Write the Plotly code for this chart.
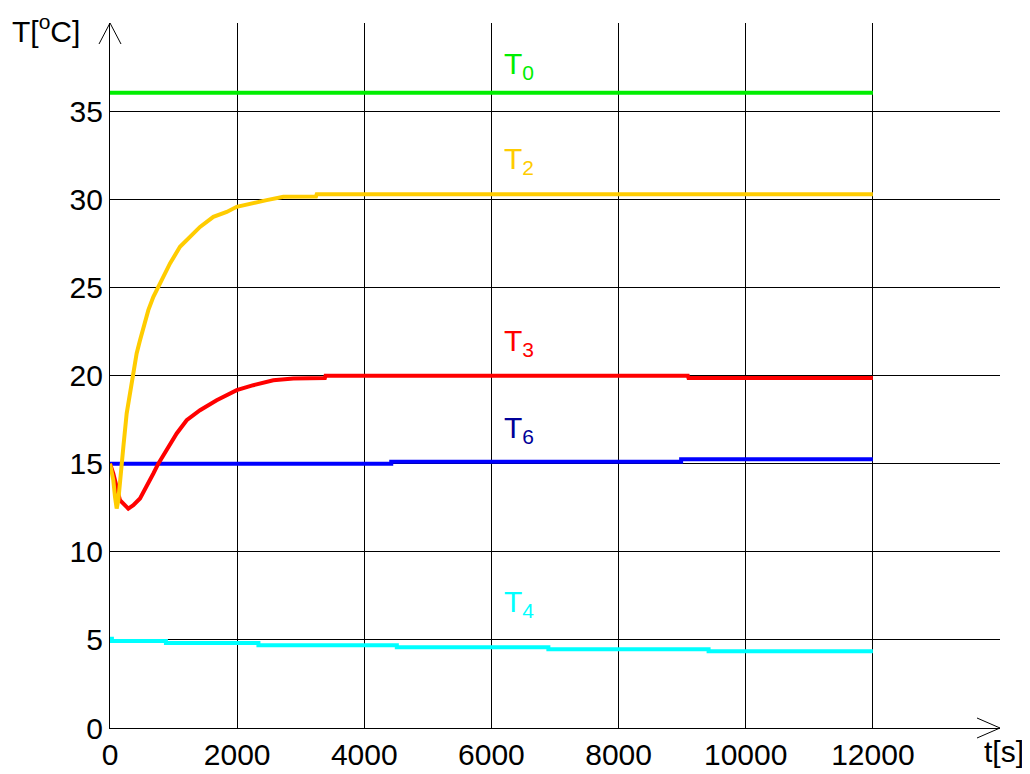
import plotly.graph_objects as go

# ---- data ----
t0_t = [0, 12000]
t0_v = [36.04, 36.04]

t2_t = [0, 52, 79, 105, 131, 157, 210, 262, 315, 367, 419, 472, 524, 603, 682, 760, 839, 944,
        1101, 1259, 1416, 1626, 1836, 1993, 2203, 2465, 2727, 3240, 3252, 12000]
t2_v = [15.0, 14.06, 13.11, 12.45, 12.92, 14.06, 15.95, 17.84, 18.98, 20.11, 21.25, 22.0, 22.76,
        23.71, 24.46, 25.03, 25.69, 26.36, 27.3, 27.87, 28.43, 29.0, 29.28, 29.57, 29.76, 29.95,
        30.14, 30.16, 30.29, 30.29]

t3_t = [0, 52, 105, 157, 288, 367, 472, 577, 682, 760, 892, 1049, 1206, 1416, 1678, 1993, 2255,
        2569, 2884, 3380, 3390, 9090, 9100, 12000]
t3_v = [15.0, 14.44, 13.68, 12.92, 12.45, 12.64, 13.02, 13.68, 14.44, 15.0, 15.76, 16.71, 17.46,
        18.03, 18.6, 19.17, 19.45, 19.73, 19.83, 19.86, 19.98, 19.98, 19.86, 19.86]

t6_t = [0, 4424, 8984, 12000]
t6_v = [15.0, 15.1, 15.25, 15.25]

t4_t = [0, 30, 880, 2335, 4512, 6896, 9416, 12000]
t4_v = [5.07, 4.94, 4.82, 4.69, 4.58, 4.47, 4.35, 4.35]

x_ticks = [0, 2000, 4000, 6000, 8000, 10000, 12000]
y_ticks = [0, 5, 10, 15, 20, 25, 30, 35]

labels = ["T<sub>0</sub>", "T<sub>2</sub>", "T<sub>3</sub>", "T<sub>6</sub>", "T<sub>4</sub>"]
label_y = [37.6, 32.2, 21.9, 16.95, 7.08]
label_colors = ["#00ee00", "#ffcc00", "#ff0000", "#000099", "#00ffff"]
label_x = 6170

FONT = "Liberation Sans, Arial, sans-serif"

fig = go.Figure()
LW = 4
fig.add_trace(go.Scatter(x=t4_t, y=t4_v, mode="lines", line=dict(color="#00ffff", width=LW, shape="hv")))
fig.add_trace(go.Scatter(x=t6_t, y=t6_v, mode="lines", line=dict(color="#0000ff", width=LW, shape="hv")))
fig.add_trace(go.Scatter(x=t3_t, y=t3_v, mode="lines", line=dict(color="#ff0000", width=LW)))
fig.add_trace(go.Scatter(x=t2_t, y=t2_v, mode="lines", line=dict(color="#ffcc00", width=LW)))
fig.add_trace(go.Scatter(x=t0_t, y=t0_v, mode="lines", line=dict(color="#00ee00", width=LW)))

for txt, yy, cc in zip(labels, label_y, label_colors):
    fig.add_annotation(x=label_x, y=yy, text=txt, showarrow=False, xanchor="left", yanchor="middle",
                       font=dict(size=30, color=cc, family=FONT))

# axis titles
fig.add_annotation(xref="paper", yref="paper", x=-0.1124, y=1.0213, text="T[<sup>o</sup>C]", showarrow=False,
                   xanchor="left", yanchor="top", font=dict(size=30, color="black", family=FONT))
fig.add_annotation(xref="paper", yref="paper", x=1.029, y=-0.034, text="t[s]", showarrow=False,
                   xanchor="right", yanchor="middle", font=dict(size=30, color="black", family=FONT))

# arrowheads on the axes
fig.add_shape(type="path", xref="paper", yref="paper", xsizemode="pixel", ysizemode="pixel",
              xanchor=0, yanchor=1, path="M -11,-21 L 0,0 L 11,-21",
              line=dict(color="black", width=1))
fig.add_shape(type="path", xref="paper", yref="paper", xsizemode="pixel", ysizemode="pixel",
              xanchor=1, yanchor=0, path="M -23,10 L 0,0 L -23,-10",
              line=dict(color="black", width=1))

fig.update_xaxes(range=[0, 14000], tickvals=x_ticks, ticktext=[str(v) for v in x_ticks],
                 showgrid=True, gridcolor="black", gridwidth=1, zeroline=False, automargin=False,
                 showline=True, linecolor="black", linewidth=1.2, ticks="",
                 tickfont=dict(size=30, color="black", family=FONT))
fig.update_yaxes(range=[0, 40], tickvals=y_ticks, ticktext=[str(v) for v in y_ticks],
                 showgrid=True, gridcolor="black", gridwidth=1, zeroline=False, automargin=False,
                 showline=True, linecolor="black", linewidth=1.2, ticks="",
                 tickfont=dict(size=30, color="black", family=FONT))

# page body has an 8px margin, so the figure is 8px smaller and margins shifted accordingly
fig.update_layout(width=1022, height=766, showlegend=False,
                  margin=dict(l=102, r=30, t=15, b=46),
                  plot_bgcolor="white", paper_bgcolor="white")

fig.write_html("out.html")
